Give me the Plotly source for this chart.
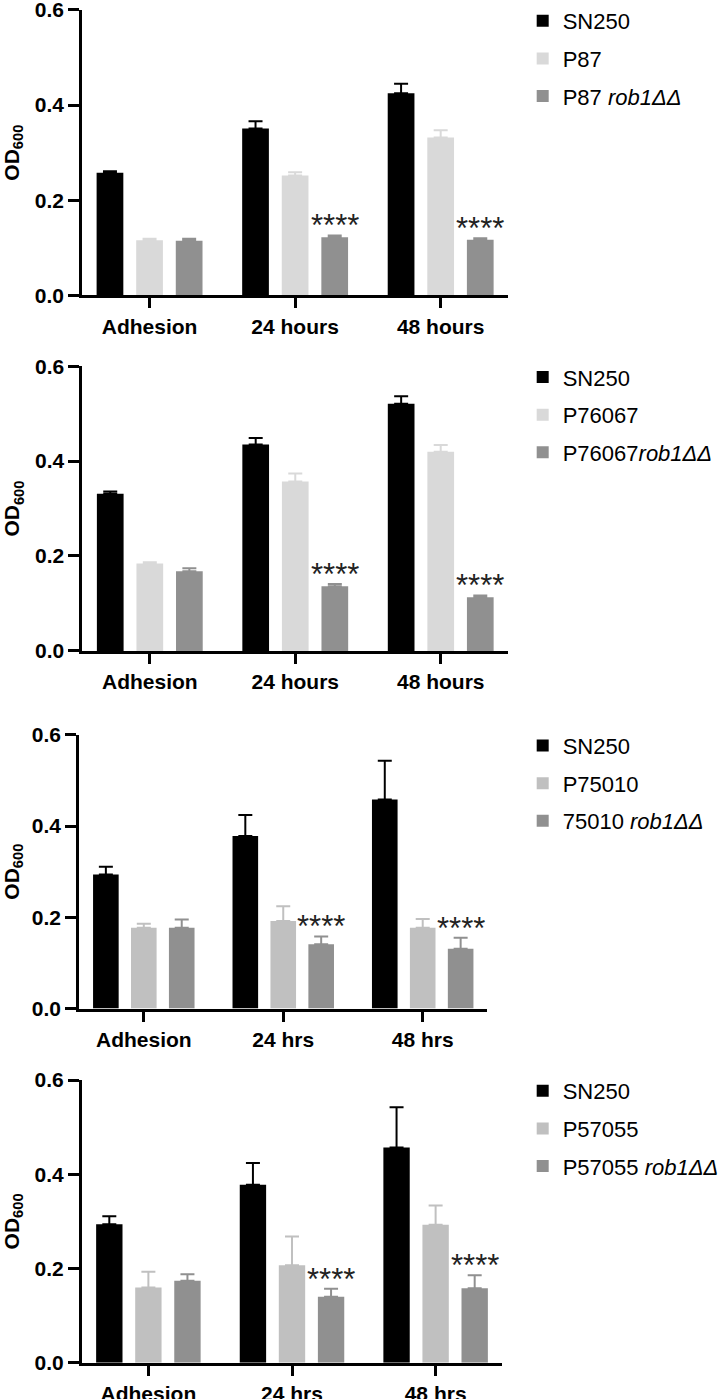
import plotly.graph_objects as go

# category labels
cats_hours = ["Adhesion", "24 hours", "48 hours"]
cats_hrs = ["Adhesion", "24 hrs", "48 hrs"]

# panel 1
p1_names = ["SN250", "P87", "P87 <i>rob1ΔΔ</i>"]
p1_sn250 = [0.258, 0.351, 0.425]
p1_sn250_err = [0.003, 0.015, 0.020]
p1_strain = [0.116, 0.252, 0.332]
p1_strain_err = [0.003, 0.007, 0.015]
p1_rob = [0.115, 0.122, 0.117]
p1_rob_err = [0.004, 0.004, 0.003]

# panel 2
p2_names = ["SN250", "P76067", "P76067<i>rob1ΔΔ</i>"]
p2_sn250 = [0.331, 0.435, 0.521]
p2_sn250_err = [0.005, 0.014, 0.016]
p2_strain = [0.184, 0.357, 0.420]
p2_strain_err = [0.003, 0.017, 0.014]
p2_rob = [0.168, 0.136, 0.113]
p2_rob_err = [0.006, 0.005, 0.004]

# panel 3
p3_names = ["SN250", "P75010", "75010 <i>rob1ΔΔ</i>"]
p3_sn250 = [0.294, 0.378, 0.458]
p3_sn250_err = [0.017, 0.046, 0.085]
p3_strain = [0.177, 0.192, 0.177]
p3_strain_err = [0.009, 0.032, 0.019]
p3_rob = [0.177, 0.141, 0.131]
p3_rob_err = [0.018, 0.017, 0.024]

# panel 4
p4_names = ["SN250", "P57055", "P57055 <i>rob1ΔΔ</i>"]
p4_sn250 = [0.294, 0.378, 0.457]
p4_sn250_err = [0.017, 0.046, 0.085]
p4_strain = [0.160, 0.207, 0.293]
p4_strain_err = [0.033, 0.061, 0.041]
p4_rob = [0.174, 0.140, 0.158]
p4_rob_err = [0.014, 0.017, 0.028]

# categories carrying "****" over the rob1ΔΔ bar
star_idx = [1, 2]

FONT = "Liberation Sans, Arial, sans-serif"
BLACK = "#000000"
LIGHT_A = "#d9d9d9"
LIGHT_B = "#c0c0c0"
DARK = "#909090"
BARGAP = 0.184
BARGROUPGAP = 0.325
H = 1399

panels = [
    dict(cats=cats_hours, names=p1_names, light=LIGHT_A,
         means=[p1_sn250, p1_strain, p1_rob], errs=[p1_sn250_err, p1_strain_err, p1_rob_err],
         xdom=[0.1146, 0.7086], ydom=[0.7906, 0.9950]),
    dict(cats=cats_hours, names=p2_names, light=LIGHT_A,
         means=[p2_sn250, p2_strain, p2_rob], errs=[p2_sn250_err, p2_strain_err, p2_rob_err],
         xdom=[0.1150, 0.7086], ydom=[0.5359, 0.7398]),
    dict(cats=cats_hrs, names=p3_names, light=LIGHT_B,
         means=[p3_sn250, p3_strain, p3_rob], errs=[p3_sn250_err, p3_strain_err, p3_rob_err],
         xdom=[0.1105, 0.6796], ydom=[0.2797, 0.4758]),
    dict(cats=cats_hrs, names=p4_names, light=LIGHT_B,
         means=[p4_sn250, p4_strain, p4_rob], errs=[p4_sn250_err, p4_strain_err, p4_rob_err],
         xdom=[0.1142, 0.7003], ydom=[0.0259, 0.2285]),
]

fig = go.Figure()
layout = {}
annotations = []

for n, p in enumerate(panels, start=1):
    sfx = "" if n == 1 else str(n)
    leg = "legend" if n == 1 else f"legend{n}"
    colors = [BLACK, p["light"], DARK]
    xs = list(range(len(p["cats"])))
    for k in range(3):
        fig.add_trace(
            go.Bar(
                x=xs,
                y=p["means"][k],
                name=p["names"][k],
                marker=dict(color=colors[k], line=dict(width=0)),
                error_y=dict(
                    type="data",
                    symmetric=False,
                    array=p["errs"][k],
                    arrayminus=[0] * len(xs),
                    color=colors[k],
                    thickness=2,
                    width=7,
                ),
                xaxis=f"x{sfx}",
                yaxis=f"y{sfx}",
                legend=leg,
                legendgroup=f"{n}-{k}",
            )
        )

    # significance stars above the third bar in each group
    slot = (1 - BARGAP) / 3
    for i in star_idx:
        annotations.append(
            dict(
                x=xs[i] + slot,
                y=p["means"][2][i] + p["errs"][2][i],
                xref=f"x{sfx}",
                yref=f"y{sfx}",
                text="****",
                showarrow=False,
                yanchor="bottom",
                yshift=-10,
                font=dict(family=FONT, size=31, color="#222222"),
            )
        )

    layout[f"xaxis{sfx}"] = dict(
        domain=p["xdom"],
        anchor=f"y{sfx}",
        range=[-0.463, len(xs) - 1 + 0.463],
        tickmode="array",
        tickvals=xs,
        ticktext=p["cats"],
        showline=True,
        linewidth=3,
        linecolor=BLACK,
        ticks="outside",
        ticklen=10,
        tickwidth=3,
        tickcolor=BLACK,
        tickfont=dict(family=FONT, size=21, color=BLACK, weight="bold"),
        ticklabeloverflow="allow",
        showgrid=False,
        zeroline=False,
        fixedrange=True,
    )
    layout[f"yaxis{sfx}"] = dict(
        domain=p["ydom"],
        anchor=f"x{sfx}",
        range=[0, 0.6],
        tickmode="array",
        tickvals=[0, 0.2, 0.4, 0.6],
        tickformat=".1f",
        showline=True,
        linewidth=3,
        linecolor=BLACK,
        ticks="outside",
        ticklen=11,
        tickwidth=3,
        tickcolor=BLACK,
        tickfont=dict(family=FONT, size=21, color=BLACK, weight="bold"),
        ticklabeloverflow="allow",
        title=dict(
            text="<b>OD<sub>600</sub></b>",
            font=dict(family=FONT, size=21, color=BLACK),
            standoff=10,
        ),
        showgrid=False,
        zeroline=False,
        fixedrange=True,
    )
    layout[leg] = dict(
        x=0.729,
        y=p["ydom"][1] + 10 / H,
        xanchor="left",
        yanchor="top",
        font=dict(family=FONT, size=22, color=BLACK),
        bgcolor="rgba(0,0,0,0)",
        tracegroupgap=6,
        traceorder="grouped",
    )

fig.update_layout(
    **layout,
    annotations=annotations,
    barmode="group",
    bargap=BARGAP,
    bargroupgap=BARGROUPGAP,
    width=724,
    height=H,
    margin=dict(l=0, r=0, t=0, b=0),
    paper_bgcolor="white",
    plot_bgcolor="white",
    template="none",
    showlegend=True,
)

# drop the browser's default body margin so the figure sits at the page corner
fig.write_html(
    "out.html",
    config={"displayModeBar": False},
    post_script="document.body.style.margin='0px';",
)
